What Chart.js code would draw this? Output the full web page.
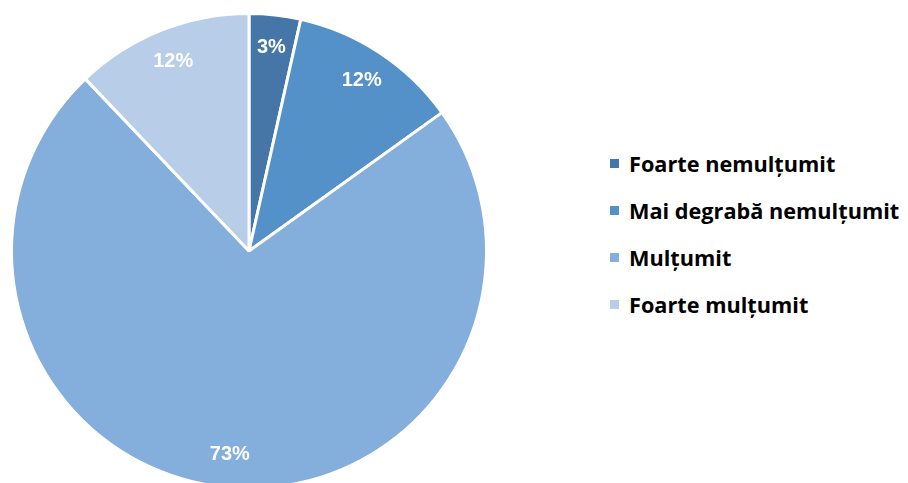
<!DOCTYPE html>
<html>
<head>
<meta charset="utf-8">
<script src="https://cdn.jsdelivr.net/npm/chart.js@4/dist/chart.umd.min.js"></script>
<style>
  html, body { margin: 0; padding: 0; background: #fff; width: 908px; height: 483px; overflow: hidden; }
  #pieBox { position: absolute; left: 0; top: 0; width: 498px; height: 502px; }
  #legend { position: absolute; left: 610px; top: 140px; margin: 0; padding: 0; list-style: none;
            font-family: "Open Sans", "Liberation Sans", sans-serif; font-weight: bold; font-size: 21.7px; color: #000; }
  #legend li { height: 47px; line-height: 47px; display: flex; align-items: center; white-space: nowrap; }
  #legend .sw { width: 9px; height: 9px; margin-right: 10px; flex: none; }
</style>
</head>
<body>
<div id="pieBox"><canvas id="satisfactionChart"></canvas></div>
<ul id="legend"></ul>
<script>
// categorii si valori (procente)
const categories = ['Foarte nemulțumit', 'Mai degrabă nemulțumit', 'Mulțumit', 'Foarte mulțumit'];
const values = [3.5, 11.6, 72.8, 12.1];
const pctLabels = ['3%', '12%', '73%', '12%'];
const sliceColors = ['#4676a8', '#5591c9', '#84aedb', '#b8cde8'];

// etichete procentuale pe felii
const sliceLabels = {
  id: 'sliceLabels',
  afterDatasetsDraw(chart) {
    const ctx = chart.ctx;
    const meta = chart.getDatasetMeta(0);
    ctx.save();
    ctx.font = 'bold 20px "Liberation Sans", Arial, sans-serif';
    ctx.fillStyle = '#ffffff';
    ctx.textAlign = 'center';
    ctx.textBaseline = 'middle';
    meta.data.forEach((arc, i) => {
      const p = arc.getProps(['x', 'y', 'startAngle', 'endAngle', 'outerRadius'], true);
      const mid = (p.startAngle + p.endAngle) / 2;
      const r = p.outerRadius * 0.86;
      ctx.fillText(pctLabels[i], p.x + Math.cos(mid) * r, p.y + Math.sin(mid) * r);
    });
    ctx.restore();
  }
};

new Chart(document.getElementById('satisfactionChart'), {
  type: 'pie',
  data: {
    labels: categories,
    datasets: [{
      data: values,
      backgroundColor: sliceColors,
      borderColor: '#ffffff',
      borderWidth: 3
    }]
  },
  options: {
    responsive: true,
    maintainAspectRatio: false,
    animation: false,
    layout: { padding: 10 },
    plugins: {
      legend: { display: false },
      tooltip: { enabled: false }
    }
  },
  plugins: [sliceLabels]
});

// legenda
const legend = document.getElementById('legend');
categories.forEach((name, i) => {
  const li = document.createElement('li');
  const sw = document.createElement('span');
  sw.className = 'sw';
  sw.style.background = sliceColors[i];
  li.appendChild(sw);
  li.appendChild(document.createTextNode(name));
  legend.appendChild(li);
});
</script>
</body>
</html>
